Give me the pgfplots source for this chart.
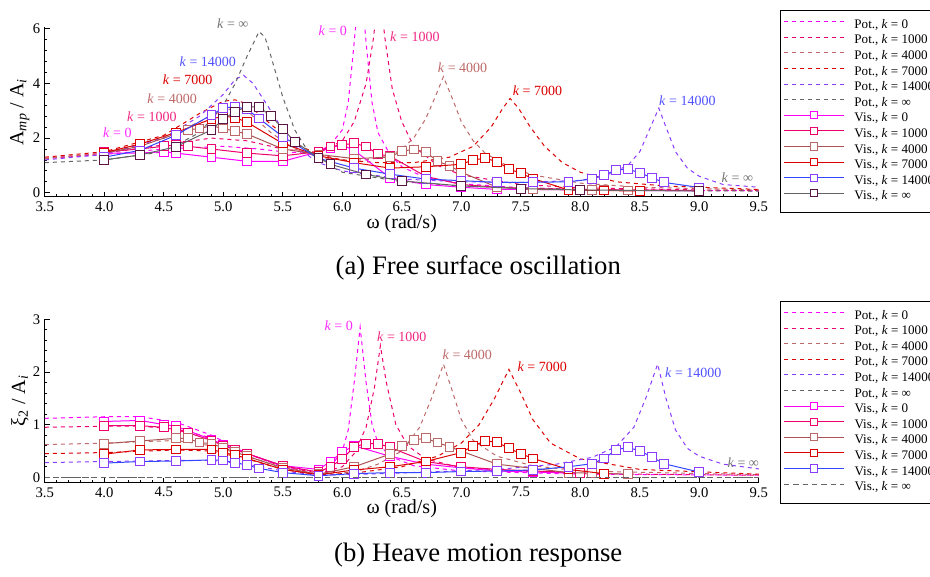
\documentclass[border=0pt]{standalone}
\usepackage{fontspec}
\setmainfont{Liberation Serif}
\usepackage{pgfplots}
\pgfplotsset{compat=1.18}

\definecolor{cA}{RGB}{255,0,255}
\definecolor{cB}{RGB}{238,0,110}
\definecolor{cC}{RGB}{190,105,105}
\definecolor{cCl}{RGB}{170,85,85}
\definecolor{cD}{RGB}{220,0,0}
\definecolor{cE}{RGB}{140,60,255}
\definecolor{cEl}{RGB}{50,70,255}
\definecolor{cF}{RGB}{100,100,100}
\definecolor{cFm}{RGB}{90,20,70}
\definecolor{tA}{RGB}{255,40,255}
\definecolor{tB}{RGB}{240,40,130}
\definecolor{tE}{RGB}{80,80,255}
\definecolor{tF}{RGB}{115,115,115}

\tikzset{lbl/.style={font=\fontsize{10.5}{12}\selectfont, inner sep=0pt}}

\pgfplotsset{
  resp/.style={
    scale only axis, width=535.5pt,
    xmin=3.5, xmax=9.5,
    axis x line=bottom, axis y line=left,
    axis line style={-, line width=0.8pt},
    tick align=inside, major tick length=3.75pt, minor tick length=2pt,
    tick style={line width=0.6pt, black},
    xtick={3.5,4,4.5,5,5.5,6,6.5,7,7.5,8,8.5,9,9.5},
    minor x tick num=4, minor y tick num=4,
    xticklabel style={/pgf/number format/.cd, fixed, fixed zerofill, precision=1},
    /pgf/number format/assume math mode=true,
    tick label style={font=\fontsize{11}{13}\selectfont},
    label style={font=\fontsize{15}{18}\selectfont},
    ylabel style={at={(axis description cs:-0.035,0.5)}, anchor=center},
    clip mode=individual,
    legend cell align=left,
    legend image code/.code={\draw[mark repeat=2,mark phase=2,#1,mark size=2.7pt] plot coordinates {(0pt,3pt) (22.5pt,3pt) (45pt,3pt)};},
    legend style={anchor=north west, draw=black, line width=0.8pt, fill=white,
      font=\fontsize{9.8}{11}\selectfont, inner xsep=2.2pt, inner ysep=5.5pt, row sep=0pt,
      nodes={inner sep=0pt, text height=7.8pt, text depth=3.9pt},
      /tikz/every odd column/.append style={column sep=7.5pt}},
  },
  pot/.style={dash pattern=on 3pt off 3pt, line width=0.75pt, no markers, color=#1, draw=#1},
  vis/.style 2 args={solid, line width=0.75pt, color=#1, draw=#1, mark=square*, mark size=3.3pt,
    mark options={draw=#2, fill=white, solid, line width=0.7pt}},
}

\begin{document}
\begin{tikzpicture}
\useasboundingbox (0,0) rectangle (697.5pt,432pt);

% (a) free surface oscillation
\begin{axis}[resp, at={(33.6pt,284.4pt)}, anchor=south west, height=127pt,
  ymin=-0.15, ymax=6.05, ytick={0,2,4,6},
  ylabel={A\textsubscript{\textit{mp}} / A\textsubscript{\textit{i}}},
  legend style={at={(axis description cs:1.0297,1.103)}}]

\addplot[pot=cA] coordinates {(3.5,1.25)(4.0,1.4)(4.5,1.6)(5.0,1.7)(5.3,1.6)(5.5,1.5)(5.7,1.45)(5.8,1.5)(5.9,1.75)(6.0,2.3)(6.05,3.3)(6.1,5.5)(6.15,8)(6.2,5.5)(6.25,3.3)(6.3,2.2)(6.4,1.4)(6.5,0.95)(6.7,0.55)(7.0,0.33)(7.5,0.18)(8.0,0.12)(9.0,0.08)(9.5,0.07)};
\addplot[pot=cB] coordinates {(3.5,1.25)(4.0,1.45)(4.5,1.75)(4.9,2.0)(5.2,1.9)(5.5,1.6)(5.8,1.45)(6.0,1.9)(6.1,2.6)(6.2,4.0)(6.26,5.6)(6.31,7.5)(6.36,5.6)(6.42,3.8)(6.5,2.6)(6.6,1.7)(6.8,1.0)(7.0,0.65)(7.5,0.3)(8.0,0.18)(9.0,0.1)(9.5,0.08)};
\addplot[pot=cC] coordinates {(3.5,1.25)(4.0,1.45)(4.5,2.0)(4.8,2.6)(5.0,3.0)(5.1,3.1)(5.2,3.0)(5.4,2.2)(5.6,1.6)(5.8,1.3)(6.0,1.2)(6.2,1.2)(6.4,1.35)(6.5,1.6)(6.6,2.0)(6.7,2.7)(6.78,3.5)(6.85,4.25)(6.92,3.5)(7.0,2.6)(7.1,1.9)(7.2,1.45)(7.4,0.95)(7.6,0.65)(8.0,0.35)(8.5,0.2)(9.5,0.1)};
\addplot[pot=cD] coordinates {(3.5,1.3)(4.0,1.5)(4.5,2.1)(4.8,2.9)(5.0,3.35)(5.1,3.4)(5.2,3.25)(5.4,2.5)(5.6,1.8)(5.8,1.4)(6.0,1.2)(6.3,1.1)(6.6,1.1)(6.9,1.3)(7.1,1.7)(7.25,2.4)(7.35,3.1)(7.41,3.45)(7.48,3.1)(7.58,2.4)(7.7,1.7)(7.85,1.1)(8.0,0.75)(8.3,0.4)(8.7,0.25)(9.5,0.12)};
\addplot[pot=cE] coordinates {(3.5,1.2)(4.0,1.4)(4.5,2.0)(4.8,2.8)(5.0,3.6)(5.1,4.15)(5.17,4.3)(5.25,4.0)(5.4,3.0)(5.5,2.3)(5.6,1.7)(5.8,1.1)(6.0,0.8)(6.5,0.5)(7.0,0.4)(7.5,0.38)(8.0,0.45)(8.2,0.6)(8.4,1.0)(8.5,1.5)(8.58,2.3)(8.66,3.1)(8.72,2.4)(8.8,1.5)(8.9,0.9)(9.0,0.6)(9.2,0.3)(9.5,0.2)};
\addplot[pot=cF] coordinates {(3.5,1.1)(4.0,1.2)(4.5,1.5)(4.8,2.2)(5.0,3.2)(5.1,4.0)(5.2,5.0)(5.3,5.9)(5.35,5.7)(5.4,5.0)(5.5,3.5)(5.6,2.3)(5.7,1.6)(5.8,1.2)(6.0,0.75)(6.5,0.4)(7.0,0.25)(8.0,0.12)(9.0,0.07)(9.5,0.06)};

\addplot[vis={cA}{cA}] coordinates {(4.0,1.45)(4.3,1.45)(4.5,1.5)(4.6,1.45)(4.9,1.3)(5.2,1.15)(5.5,1.15)(5.8,1.5)(5.9,1.65)(6.0,1.75)(6.1,1.55)(6.4,0.55)(6.7,0.3)(7.0,0.2)(7.3,0.12)(7.6,0.12)(8.0,0.1)(8.4,0.08)(9.0,0.07)};
\addplot[vis={cB}{cB}] coordinates {(4.0,1.5)(4.3,1.6)(4.5,1.7)(4.6,1.75)(4.7,1.7)(4.9,1.6)(5.2,1.45)(5.5,1.35)(5.8,1.5)(5.9,1.69)(6.0,1.75)(6.1,1.81)(6.2,1.69)(6.3,1.41)(6.4,1.34)(6.7,0.6)(7.0,0.3)(7.3,0.2)(7.6,0.15)(8.0,0.12)(9.0,0.08)};
\addplot[vis={cCl}{cC}] coordinates {(4.0,1.45)(4.3,1.7)(4.6,2.15)(4.7,2.3)(4.8,2.35)(4.9,2.45)(5.0,2.35)(5.1,2.25)(5.2,2.15)(5.5,1.6)(5.8,1.4)(6.1,1.25)(6.4,1.3)(6.5,1.53)(6.6,1.58)(6.7,1.5)(6.8,1.15)(6.9,0.99)(7.0,0.75)(7.3,0.2)(7.6,0.12)(8.1,0.1)(8.2,0.1)(8.4,0.08)};
\addplot[vis={cD}{cD}] coordinates {(4.0,1.47)(4.3,1.78)(4.6,2.2)(4.9,2.7)(5.0,2.8)(5.1,2.75)(5.2,2.58)(5.5,1.8)(5.8,1.35)(6.1,1.1)(6.4,0.9)(6.7,0.95)(7.0,1.04)(7.1,1.2)(7.2,1.26)(7.3,1.14)(7.4,0.87)(7.5,0.71)(7.6,0.52)(7.9,0.1)(8.2,0.08)(8.5,0.06)};
\addplot[vis={cEl}{cE}] coordinates {(4.0,1.3)(4.3,1.55)(4.6,2.1)(4.9,2.85)(5.0,3.1)(5.1,3.15)(5.2,3.05)(5.3,2.72)(5.5,2.05)(5.8,1.26)(6.1,0.9)(6.4,0.68)(6.7,0.5)(7.0,0.44)(7.3,0.38)(7.6,0.38)(7.9,0.4)(8.1,0.5)(8.2,0.65)(8.3,0.83)(8.4,0.86)(8.5,0.73)(8.6,0.55)(8.7,0.38)(9.0,0.19)};
\addplot[vis={cF}{cFm}] coordinates {(4.0,1.2)(4.3,1.38)(4.6,1.68)(4.9,2.3)(5.0,2.69)(5.1,2.97)(5.2,3.15)(5.3,3.13)(5.4,2.82)(5.5,2.34)(5.6,1.87)(5.8,1.28)(5.9,1.04)(6.2,0.67)(6.5,0.43)(7.0,0.25)(7.5,0.15)(8.0,0.1)(9.0,0.06)};

\legend{Pot.{,} \textit{k} = 0, Pot.{,} \textit{k} = 1000, Pot.{,} \textit{k} = 4000, Pot.{,} \textit{k} = 7000, Pot.{,} \textit{k} = 14000, Pot.{,} \textit{k} = ∞,
  Vis.{,} \textit{k} = 0, Vis.{,} \textit{k} = 1000, Vis.{,} \textit{k} = 4000, Vis.{,} \textit{k} = 7000, Vis.{,} \textit{k} = 14000, Vis.{,} \textit{k} = ∞}

\node[lbl, tF] at (axis cs:5.08,6.18) {\textit{k} = ∞};
\node[lbl, tE] at (axis cs:4.87,4.79) {\textit{k} = 14000};
\node[lbl, cD] at (axis cs:4.70,4.13) {\textit{k} = 7000};
\node[lbl, cC] at (axis cs:4.57,3.43) {\textit{k} = 4000};
\node[lbl, tB] at (axis cs:4.40,2.77) {\textit{k} = 1000};
\node[lbl, tA] at (axis cs:4.11,2.19) {\textit{k} = 0};
\node[lbl, tA] at (axis cs:5.92,5.92) {\textit{k} = 0};
\node[lbl, tB] at (axis cs:6.61,5.70) {\textit{k} = 1000};
\node[lbl, cC] at (axis cs:7.01,4.57) {\textit{k} = 4000};
\node[lbl, cD] at (axis cs:7.64,3.73) {\textit{k} = 7000};
\node[lbl, tE] at (axis cs:8.90,3.36) {\textit{k} = 14000};
\node[lbl, tF] at (axis cs:9.32,0.54) {\textit{k} = ∞};
\end{axis}

% (b) heave motion response
\begin{axis}[resp, at={(33.6pt,70.05pt)}, anchor=south west, height=122.5pt,
  ymin=-0.1, ymax=3, ytick={0,1,2,3},
  ylabel={ξ\textsubscript{2} / A\textsubscript{\textit{i}}},
  legend style={at={(axis description cs:1.0297,1.113)}}]

\addplot[pot=cA] coordinates {(3.5,1.12)(4.0,1.15)(4.3,1.15)(4.6,1.05)(4.9,0.8)(5.2,0.45)(5.5,0.2)(5.8,0.1)(5.9,0.2)(6.0,0.5)(6.05,0.9)(6.1,1.8)(6.15,2.85)(6.2,1.8)(6.25,1.0)(6.3,0.65)(6.4,0.4)(6.6,0.22)(7.0,0.12)(8.0,0.06)(9.5,0.04)};
\addplot[pot=cB] coordinates {(3.5,0.95)(4.0,0.97)(4.3,0.97)(4.6,0.92)(4.9,0.75)(5.2,0.45)(5.5,0.2)(5.8,0.08)(6.0,0.2)(6.1,0.45)(6.2,0.95)(6.27,1.7)(6.32,2.5)(6.37,1.8)(6.45,1.0)(6.55,0.6)(6.7,0.35)(7.0,0.18)(8.0,0.07)(9.5,0.04)};
\addplot[pot=cC] coordinates {(3.5,0.62)(4.0,0.65)(4.6,0.7)(4.9,0.6)(5.2,0.4)(5.5,0.18)(5.8,0.06)(6.1,0.1)(6.3,0.25)(6.5,0.5)(6.65,0.95)(6.75,1.5)(6.85,2.15)(6.93,1.6)(7.0,1.1)(7.1,0.7)(7.3,0.4)(7.6,0.22)(8.0,0.12)(9.5,0.05)};
\addplot[pot=cD] coordinates {(3.5,0.45)(4.0,0.47)(4.6,0.52)(4.9,0.5)(5.2,0.35)(5.5,0.15)(5.8,0.05)(6.1,0.08)(6.5,0.2)(6.8,0.4)(7.0,0.65)(7.15,1.0)(7.28,1.5)(7.4,2.05)(7.5,1.6)(7.6,1.1)(7.75,0.65)(8.0,0.35)(8.5,0.15)(9.5,0.06)};
\addplot[pot=cE] coordinates {(3.5,0.28)(4.0,0.3)(4.6,0.32)(4.9,0.32)(5.2,0.25)(5.5,0.12)(5.8,0.04)(6.2,0.06)(6.7,0.1)(7.3,0.15)(7.8,0.25)(8.1,0.38)(8.3,0.58)(8.45,0.95)(8.55,1.5)(8.65,2.15)(8.72,1.5)(8.8,0.9)(8.9,0.55)(9.0,0.4)(9.2,0.25)(9.5,0.16)};
\addplot[pot=cF] coordinates {(3.5,0)(9.5,0)};

\addplot[vis={cA}{cA}] coordinates {(4.0,1.06)(4.3,1.08)(4.5,1.0)(4.6,0.97)(4.9,0.72)(5.0,0.62)(5.2,0.45)(5.5,0.22)(5.8,0.15)(5.9,0.3)(6.0,0.48)(6.1,0.6)(6.4,0.4)(6.7,0.25)(7.0,0.18)(7.3,0.12)(7.6,0.1)(8.0,0.08)};
\addplot[vis={cB}{cB}] coordinates {(4.0,0.98)(4.3,0.98)(4.5,0.95)(4.6,0.9)(4.7,0.85)(4.9,0.7)(5.0,0.6)(5.1,0.52)(5.2,0.45)(5.5,0.22)(5.8,0.1)(5.9,0.2)(6.0,0.35)(6.1,0.58)(6.2,0.64)(6.3,0.64)(6.4,0.57)(6.7,0.3)(7.0,0.2)(7.3,0.15)(7.6,0.12)(8.0,0.09)};
\addplot[vis={cCl}{cC}] coordinates {(4.0,0.64)(4.3,0.69)(4.6,0.74)(4.7,0.74)(4.8,0.66)(4.9,0.64)(5.0,0.56)(5.1,0.48)(5.2,0.4)(5.5,0.18)(5.8,0.06)(6.1,0.2)(6.4,0.44)(6.5,0.59)(6.6,0.71)(6.7,0.74)(6.8,0.66)(6.9,0.58)(7.3,0.25)(7.9,0.09)(8.1,0.08)(8.4,0.06)};
\addplot[vis={cD}{cD}] coordinates {(4.0,0.44)(4.3,0.52)(4.6,0.53)(4.9,0.53)(5.0,0.47)(5.1,0.42)(5.2,0.36)(5.5,0.15)(5.8,0.05)(6.1,0.14)(6.4,0.2)(6.7,0.3)(7.0,0.47)(7.1,0.6)(7.2,0.69)(7.3,0.67)(7.4,0.55)(7.5,0.45)(7.6,0.36)(7.9,0.15)(8.2,0.07)};
\addplot[vis={cEl}{cE}] coordinates {(4.0,0.27)(4.3,0.3)(4.6,0.31)(4.9,0.33)(5.0,0.32)(5.1,0.28)(5.2,0.23)(5.3,0.17)(5.5,0.09)(5.8,0.03)(6.1,0.07)(6.4,0.09)(6.7,0.09)(7.0,0.11)(7.3,0.12)(7.6,0.14)(7.9,0.2)(8.1,0.26)(8.2,0.36)(8.3,0.52)(8.4,0.57)(8.5,0.5)(8.6,0.39)(8.7,0.26)(9.0,0.1)};
\addplot[dash pattern=on 4pt off 3pt, line width=0.8pt, no markers, color=cF, draw=cF] coordinates {(3.5,0)(9.5,0)};

\legend{Pot.{,} \textit{k} = 0, Pot.{,} \textit{k} = 1000, Pot.{,} \textit{k} = 4000, Pot.{,} \textit{k} = 7000, Pot.{,} \textit{k} = 14000, Pot.{,} \textit{k} = ∞,
  Vis.{,} \textit{k} = 0, Vis.{,} \textit{k} = 1000, Vis.{,} \textit{k} = 4000, Vis.{,} \textit{k} = 7000, Vis.{,} \textit{k} = 14000, Vis.{,} \textit{k} = ∞}

\node[lbl, tA] at (axis cs:5.97,2.87) {\textit{k} = 0};
\node[lbl, tB] at (axis cs:6.50,2.67) {\textit{k} = 1000};
\node[lbl, cC] at (axis cs:7.05,2.32) {\textit{k} = 4000};
\node[lbl, cD] at (axis cs:7.68,2.10) {\textit{k} = 7000};
\node[lbl, tE] at (axis cs:8.95,1.98) {\textit{k} = 14000};
\node[lbl, tF] at (axis cs:9.37,0.28) {\textit{k} = ∞};
\end{axis}

\node[font=\fontsize{15}{18}\selectfont] at (301.3pt,264.5pt) {ω (rad/s)};
\node[font=\fontsize{15}{18}\selectfont] at (301.3pt,50.8pt) {ω (rad/s)};
\node[font=\fontsize{20}{24}\selectfont] at (358.7pt,230.8pt) {(a) Free surface oscillation};
\node[font=\fontsize{20}{24}\selectfont] at (358.7pt,15.75pt) {(b) Heave motion response};
\end{tikzpicture}
\end{document}
